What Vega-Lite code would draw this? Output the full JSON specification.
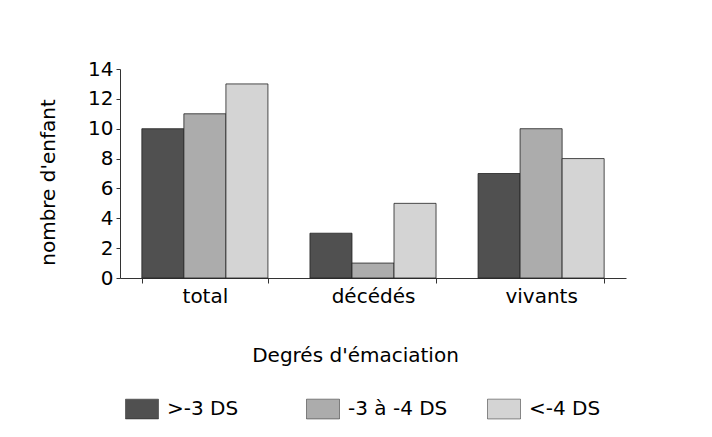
{
  "$schema": "https://vega.github.io/schema/vega-lite/v6.json",
  "width": 506,
  "height": 209,
  "autosize": "none",
  "padding": {"left": 120, "top": 69, "right": 86, "bottom": 159},
  "background": "white",
  "config": {
    "font": "DejaVu Sans",
    "view": {"stroke": null},
    "axis": {"labelFont": "DejaVu Sans", "titleFont": "DejaVu Sans", "labelColor": "black", "titleColor": "black", "titleFontWeight": "normal", "domainColor": "#333", "tickColor": "#333", "grid": false}
  },
  "data": {
    "values": [
      {"cat": "total", "groupe": ">-3 DS", "n": 10},
      {"cat": "total", "groupe": "-3 à -4 DS", "n": 11},
      {"cat": "total", "groupe": "<-4 DS", "n": 13},
      {"cat": "décédés", "groupe": ">-3 DS", "n": 3},
      {"cat": "décédés", "groupe": "-3 à -4 DS", "n": 1},
      {"cat": "décédés", "groupe": "<-4 DS", "n": 5},
      {"cat": "vivants", "groupe": ">-3 DS", "n": 7},
      {"cat": "vivants", "groupe": "-3 à -4 DS", "n": 10},
      {"cat": "vivants", "groupe": "<-4 DS", "n": 8}
    ]
  },
  "mark": {"type": "bar", "stroke": "#222", "strokeWidth": 0.8},
  "encoding": {
    "x": {
      "field": "cat",
      "type": "nominal",
      "sort": ["total", "décédés", "vivants"],
      "scale": {"paddingInner": 0.25, "paddingOuter": 0.13},
      "axis": {
        "title": "Degrés d'émaciation",
        "labelAngle": 0,
        "labelFontSize": 20,
        "titleFontSize": 20,
        "tickBand": "extent",
        "tickSize": 5,
        "labelPadding": 3,
        "titleX": 235,
        "titleY": 83,
        "titleAlign": "center",
        "titleBaseline": "alphabetic"
      }
    },
    "xOffset": {
      "field": "groupe",
      "type": "nominal",
      "sort": [">-3 DS", "-3 à -4 DS", "<-4 DS"],
      "scale": {"paddingInner": 0, "paddingOuter": 0}
    },
    "y": {
      "field": "n",
      "type": "quantitative",
      "scale": {"domain": [0, 14], "nice": false},
      "axis": {
        "title": "nombre d'enfant",
        "values": [0, 2, 4, 6, 8, 10, 12, 14],
        "labelFontSize": 20,
        "titleFontSize": 20,
        "tickSize": 4,
        "labelPadding": 3,
        "titleX": -66,
        "titleY": 113,
        "titleAngle": -90,
        "titleAlign": "center",
        "titleBaseline": "alphabetic"
      }
    },
    "color": {
      "field": "groupe",
      "type": "nominal",
      "sort": [">-3 DS", "-3 à -4 DS", "<-4 DS"],
      "scale": {"domain": [">-3 DS", "-3 à -4 DS", "<-4 DS"], "range": ["#505050", "#acacac", "#d4d4d4"]},
      "legend": {
        "title": null,
        "orient": "none",
        "direction": "horizontal",
        "columns": 3,
        "gridAlign": "all",
        "columnPadding": 38,
        "legendX": 5,
        "legendY": 323,
        "padding": 0,
        "symbolType": "M-1,-0.6L1,-0.6L1,0.6L-1,0.6Z",
        "symbolSize": 1089,
        "symbolStrokeColor": "#222",
        "symbolStrokeWidth": 0.5,
        "symbolOpacity": 1,
        "labelFont": "DejaVu Sans",
        "labelFontSize": 20,
        "labelColor": "black",
        "labelOffset": 8,
        "labelLimit": 300
      }
    }
  }
}
